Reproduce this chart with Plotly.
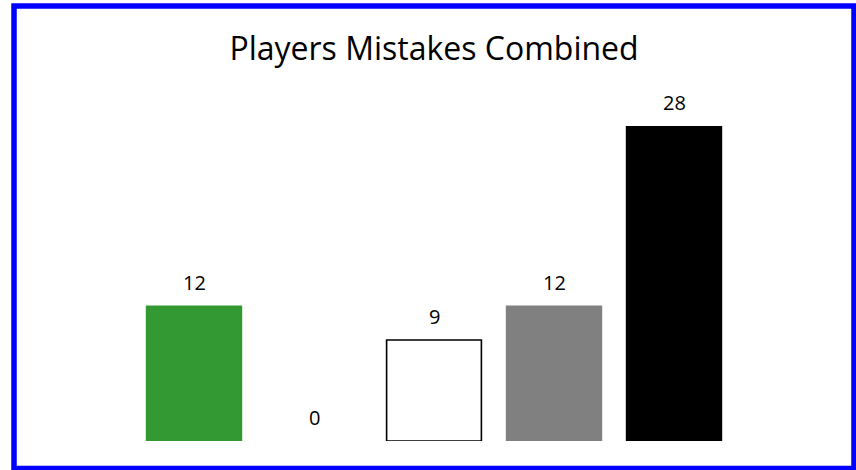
import plotly.graph_objects as go

# Data
categories = ["Player 1", "Player 2", "Player 3", "Player 4", "Player 5"]
mistakes = [12, 0, 9, 12, 28]
bar_colors = ["#339933", "#ffffff", "#ffffff", "#808080", "#000000"]
line_colors = ["#339933", "#ffffff", "#000000", "#808080", "#000000"]
title_text = "Players Mistakes Combined"

W, H = 856, 470
ML, MR, MT, MB = 134, 122, 70, 29
plot_h = H - MT - MB
px_per_unit = 11.22
ymax = plot_h / px_per_unit

def px_x(p):
    return (p - ML) / (W - ML - MR)

def px_y(p):
    return (H - MB - p) / plot_h

fig = go.Figure()
fig.add_trace(go.Bar(
    x=list(range(len(categories))),
    y=mistakes,
    width=0.79,
    marker=dict(color=bar_colors, line=dict(color=line_colors, width=1.6)),
    hoverinfo="skip",
    showlegend=False,
))

for i, v in enumerate(mistakes):
    fig.add_annotation(x=i, y=v, xref="x", yref="y", text=str(v), showarrow=False,
                       yshift=24, yanchor="middle", xanchor="center",
                       font=dict(family="Open Sans", size=20, color="#000000"))

# outer blue frame
fig.add_shape(type="rect", xref="paper", yref="paper",
              x0=px_x(14), x1=px_x(854), y0=px_y(468.5), y1=px_y(6),
              line=dict(color="#0000FF", width=5.5), fillcolor="rgba(0,0,0,0)", layer="above")

fig.update_layout(
    width=W, height=H,
    margin=dict(l=ML, r=MR, t=MT, b=MB, pad=0),
    paper_bgcolor="#ffffff", plot_bgcolor="#ffffff",
    title=dict(text=title_text, x=0.5, xref="paper", xanchor="center",
               y=1 - 49 / H, yref="container", yanchor="middle",
               font=dict(family="Open Sans", size=32, color="#000000")),
    xaxis=dict(range=[-0.5, len(categories) - 0.5], visible=False, fixedrange=True),
    yaxis=dict(range=[0, ymax], visible=False, fixedrange=True),
    bargap=0.21,
)

fig.write_html("out.html", config={"displayModeBar": False},
               post_script="document.body.style.margin='0';document.body.style.overflow='hidden';")
